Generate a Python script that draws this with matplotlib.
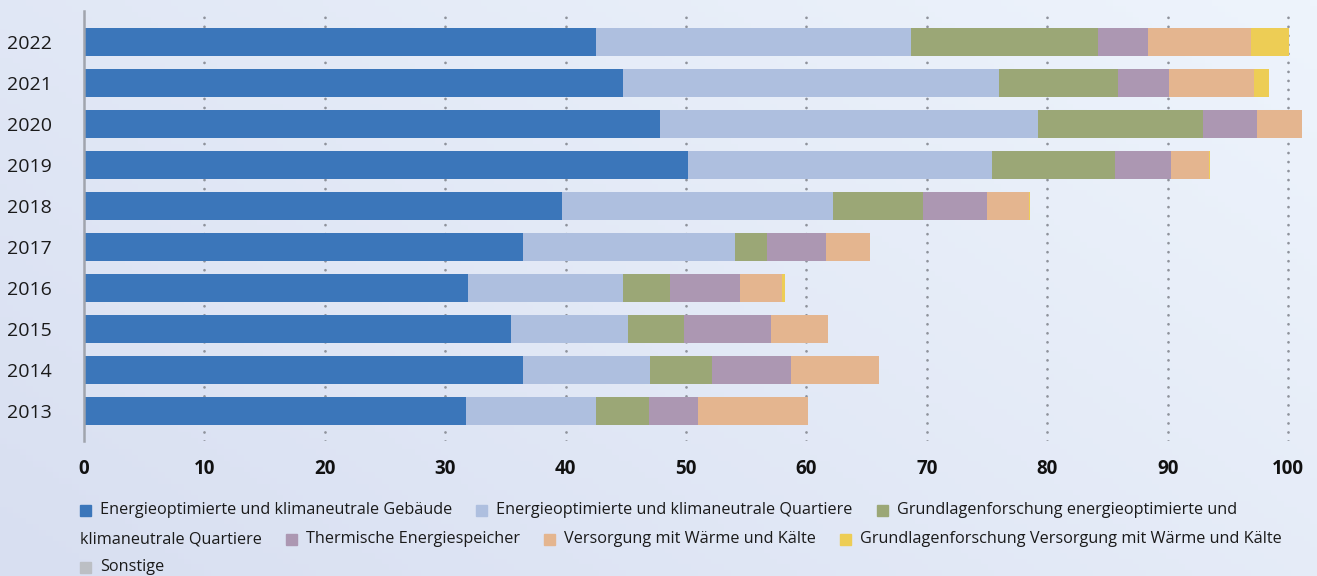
import numpy as np
import matplotlib
matplotlib.use("Agg")
import matplotlib.pyplot as plt
from matplotlib.patches import Rectangle
from matplotlib.colors import to_rgb

plt.rcParams['font.family'] = ['Open Sans', 'DejaVu Sans']
plt.rcParams['lines.scale_dashes'] = False

years = ['2013', '2014', '2015', '2016', '2017', '2018', '2019', '2020', '2021', '2022']
series_names = [
    'Energieoptimierte und klimaneutrale Gebäude',
    'Energieoptimierte und klimaneutrale Quartiere',
    'Grundlagenforschung energieoptimierte und klimaneutrale Quartiere',
    'Thermische Energiespeicher',
    'Versorgung mit Wärme und Kälte',
    'Grundlagenforschung Versorgung mit Wärme und Kälte',
    'Sonstige',
]
gebaeude     = [31.7, 36.5, 35.5, 31.9, 36.5, 39.7, 50.2, 47.8, 44.8, 42.5]
quartiere    = [10.8, 10.5,  9.7, 12.9, 17.6, 22.5, 25.2, 31.4, 31.2, 26.2]
gf_quartiere = [ 4.4,  5.2,  4.6,  3.9,  2.6,  7.5, 10.2, 13.7,  9.9, 15.5]
speicher     = [ 4.1,  6.5,  7.3,  5.8,  4.9,  5.3,  4.7,  4.5,  4.2,  4.2]
versorgung   = [ 9.1,  7.3,  4.7,  3.5,  3.7,  3.5,  3.1,  3.8,  7.1,  8.5]
gf_versorg   = [ 0.0,  0.0,  0.0,  0.2,  0.0,  0.1,  0.1,  0.0,  1.2,  3.2]
sonstige     = [ 0.0,  0.0,  0.0,  0.0,  0.0,  0.0,  0.0,  0.0,  0.0,  0.0]
series = [gebaeude, quartiere, gf_quartiere, speicher, versorgung, gf_versorg, sonstige]
colors = ['#3b76ba', '#aebfdf', '#9ba776', '#ac97b2', '#e4b58f', '#edcd55', '#bcbfc4']
xticks = [0, 10, 20, 30, 40, 50, 60, 70, 80, 90, 100]

W, H = 1317, 576
fig = plt.figure(figsize=(W / 100, H / 100), dpi=100)

# gradient background
bg = fig.add_axes([0, 0, 1, 1], zorder=-10)
dark = np.array(to_rgb('#d8dff1'))
light = np.array(to_rgb('#eef4fc'))
xs = np.linspace(0, 1, 200)
ys = np.linspace(1, 0, 100)
X, Y = np.meshgrid(xs, ys)
t = (X * 0.6 + Y * 0.4)
img = dark[None, None, :] + t[..., None] * (light - dark)[None, None, :]
bg.imshow(img, aspect='auto', extent=[0, 1, 0, 1])
bg.axis('off')

x0_px, x100_px = 84, 1288
xmax = 102
px_per = (x100_px - x0_px) / 100
left = x0_px / W
right = (x0_px + xmax * px_per) / W
top_px, bot_px = 11, 441
ax = fig.add_axes([left, 1 - bot_px / H, right - left, (bot_px - top_px) / H])
ax.patch.set_alpha(0)

ypos = np.arange(len(years))
cum = np.zeros(len(years))
for vals, c, name in zip(series, colors, series_names):
    v = np.array(vals)
    ax.barh(ypos, v, left=cum, height=0.675, color=c, label=name, zorder=3, linewidth=0)
    cum += v

ax.set_xlim(0, xmax)
ax.set_ylim(-0.725, 9.75)
ax.set_yticks(ypos)
ax.set_yticklabels(years, fontsize=14, color='#1a1a1a')
ax.set_xticks(xticks)
ax.set_xticklabels([str(v) for v in xticks], fontsize=13.5, fontweight='bold', color='#111111')
ax.tick_params(axis='both', length=0)
ax.tick_params(axis='x', pad=13)
ax.tick_params(axis='y', pad=23)
for s in ['top', 'right', 'bottom']:
    ax.spines[s].set_visible(False)
ax.spines['left'].set_color('#a0a4ad')
ax.spines['left'].set_linewidth(1.8)
ax.spines['left'].set_zorder(5)
for xv in xticks[1:]:
    ax.axvline(xv, color='#8e929b', linewidth=2.0, linestyle=(0, (0.01, 6.48)),
               dash_capstyle='round', zorder=1)

# flowing legend
renderer = fig.canvas.get_renderer()
LFS = 11.7

def tw(s):
    tt = fig.text(0, 0, s, fontsize=LFS)
    w = tt.get_window_extent(renderer).width
    tt.remove()
    return w

row_y = [510, 539, 567]
x_start, max_x = 80, 1300
sq, sq_gap, item_gap = 11, 20, 24
row = 0
x = x_start

def draw_square(xp, r, c):
    yc = row_y[r]
    fig.patches.append(Rectangle((xp / W, 1 - (yc + sq / 2) / H), sq / W, sq / H,
                                 transform=fig.transFigure, color=c, figure=fig))

def draw_text(xp, r, s):
    fig.text(xp / W, 1 - row_y[r] / H, s, fontsize=LFS, va='center', ha='left', color='#1a1a1a')

for name, c in zip(series_names, colors):
    full = sq_gap + tw(name)
    if x + full <= max_x:
        draw_square(x, row, c)
        draw_text(x + sq_gap, row, name)
        x += full + item_gap
        continue
    words = name.split(' ')
    k = 0
    for i in range(len(words), 0, -1):
        if x + sq_gap + tw(' '.join(words[:i])) <= max_x:
            k = i
            break
    if k > 0:
        draw_square(x, row, c)
        draw_text(x + sq_gap, row, ' '.join(words[:k]))
        row += 1
        rest = ' '.join(words[k:])
        draw_text(x_start, row, rest)
        x = x_start + tw(rest) + item_gap
    else:
        row += 1
        x = x_start
        draw_square(x, row, c)
        draw_text(x + sq_gap, row, name)
        x += full + item_gap

fig.savefig('out.png', dpi=100)
